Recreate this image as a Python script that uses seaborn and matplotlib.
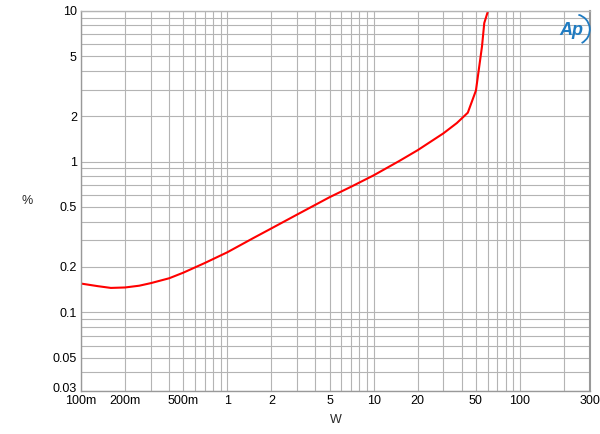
import matplotlib
matplotlib.use("Agg")
import matplotlib.pyplot as plt
import matplotlib.ticker as mticker
import matplotlib.transforms as mtransforms
from matplotlib.patches import Arc
import seaborn as sns
import pandas as pd

power_w = [0.1, 0.13, 0.16, 0.2, 0.25, 0.3, 0.4, 0.5, 0.7, 1, 1.5, 2, 3, 5, 7,
           10, 15, 20, 30, 37, 44, 50, 55, 57, 60.5]
thd_pct = [0.155, 0.149, 0.145, 0.146, 0.150, 0.156, 0.168, 0.183, 0.212, 0.25,
           0.31, 0.36, 0.445, 0.58, 0.68, 0.81, 1.01, 1.19, 1.54, 1.80, 2.11,
           2.96, 5.8, 8.3, 10.0]

x_ticks = [0.1, 0.2, 0.5, 1, 2, 5, 10, 20, 50, 100, 300]
x_labels = ["100m", "200m", "500m", "1", "2", "5", "10", "20", "50", "100", "300"]
y_ticks = [0.03, 0.05, 0.1, 0.2, 0.5, 1, 2, 5, 10]
y_labels = ["0.03", "0.05", "0.1", "0.2", "0.5", "1", "2", "5", "10"]

sns.set_style("white")
plt.rcParams["font.family"] = ["Liberation Sans", "DejaVu Sans"]

df = pd.DataFrame({"W": power_w, "%": thd_pct})

fig = plt.figure(figsize=(6.0, 4.34), dpi=100)
ax = fig.add_axes([0.135, 0.099, 0.848, 0.876])
sns.lineplot(data=df, x="W", y="%", ax=ax, color="#ff0000", linewidth=1.5)
ax.set_xscale("log")
ax.set_yscale("log")
ax.set_xlim(0.1, 300)
ax.set_ylim(0.03, 10)

ax.xaxis.set_major_locator(mticker.FixedLocator(x_ticks))
ax.xaxis.set_major_formatter(mticker.FixedFormatter(x_labels))
ax.yaxis.set_major_locator(mticker.FixedLocator(y_ticks))
ax.yaxis.set_major_formatter(mticker.FixedFormatter(y_labels))
ax.xaxis.set_minor_locator(mticker.LogLocator(base=10, subs=range(1, 10), numticks=20))
ax.yaxis.set_minor_locator(mticker.LogLocator(base=10, subs=range(1, 10), numticks=20))
ax.xaxis.set_minor_formatter(mticker.NullFormatter())
ax.yaxis.set_minor_formatter(mticker.NullFormatter())

ax.grid(True, which="both", color="#b4b4b4", linewidth=0.8)
ax.set_axisbelow(True)
ax.tick_params(which="both", length=0, labelsize=9, colors="black")
ax.tick_params(axis="x", pad=3)
ax.tick_params(axis="y", pad=3)

for side in ["left", "bottom", "right", "top"]:
    ax.spines[side].set_visible(True)
    ax.spines[side].set_color("#999999")
    ax.spines[side].set_linewidth(1.0)
ax.spines["top"].set_color("#b4b4b4")
ax.spines["right"].set_linewidth(1.5)

ax.set_xlabel("W", fontsize=9, labelpad=5)
ax.set_ylabel("%", fontsize=9, rotation=0, va="center")
ax.yaxis.set_label_coords(-0.105, 0.5)

fig.canvas.draw()
# nudge the lowest y label up a bit so it does not collide with "100m"
for lbl in ax.get_yticklabels():
    if lbl.get_text() == "0.03":
        lbl.set_transform(lbl.get_transform() +
                          mtransforms.ScaledTranslation(0, 4 / 100, fig.dpi_scale_trans))

# AP logo
fig.text(0.952, 0.930, "Ap", color="#1f7bc1", fontsize=13, fontstyle="italic",
         fontweight="bold", ha="center", va="center")
logo_arc = Arc((0.958, 0.932), 0.05, 0.07, theta1=-70, theta2=80,
               transform=fig.transFigure, color="#1f7bc1", linewidth=1.3)
fig.add_artist(logo_arc)

fig.savefig("out.png", dpi=100)
